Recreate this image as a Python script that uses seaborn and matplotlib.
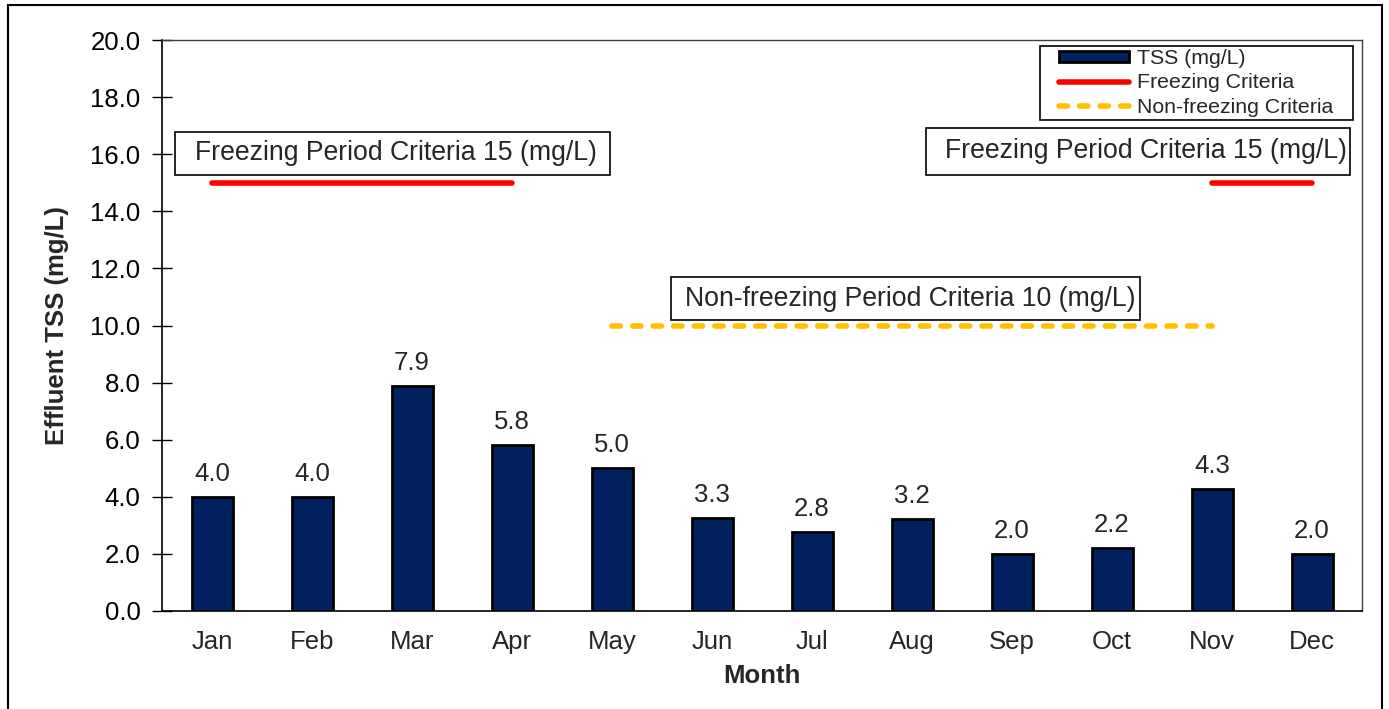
import seaborn as sns
import pandas as pd
import matplotlib.pyplot as plt
import matplotlib
import numpy as np
from matplotlib.patches import Rectangle, Patch
from matplotlib.lines import Line2D

sns.set_style('white')
plt.rcParams['font.family'] = ['Liberation Sans', 'DejaVu Sans']

months = ['Jan', 'Feb', 'Mar', 'Apr', 'May', 'Jun', 'Jul', 'Aug', 'Sep', 'Oct', 'Nov', 'Dec']
tss = [4.0, 4.0, 7.87, 5.8, 5.0, 3.27, 2.78, 3.22, 2.0, 2.2, 4.27, 2.0]
freezing = [15, 15, 15, 15, np.nan, np.nan, np.nan, np.nan, np.nan, np.nan, 15, 15]
non_freezing = [np.nan, np.nan, np.nan, np.nan, 10, 10, 10, 10, 10, 10, 10, np.nan]
yticks = np.arange(0, 20.1, 2.0)

bar_color = '#002060'
red = '#FF0000'
yellow = '#FFC000'


def plot_effluent_tss():
    fig = plt.figure(figsize=(13.89, 7.09), dpi=100)
    ax = fig.add_axes([162 / 1389, 1 - 611 / 709, 1200 / 1389, 571 / 709])

    df = pd.DataFrame({'Month': months, 'TSS': tss})
    sns.barplot(data=df, x='Month', y='TSS', color=bar_color, width=0.41,
                edgecolor='black', linewidth=2, saturation=1, ax=ax)
    ax.bar_label(ax.containers[0], fmt='%.1f', padding=8, fontsize=18.5)

    x = np.arange(len(months))
    ax.plot(x, freezing, color=red, lw=4, solid_capstyle='round')
    ax.plot(x, non_freezing, color=yellow, lw=4, dash_capstyle='round',
            dashes=(1.5, 2.2))

    ax.set_xlim(-0.5, 11.5)
    ax.set_ylim(0, 20)
    ax.set_yticks(yticks)
    ax.set_yticklabels([f'{v:.1f}' for v in yticks])
    ax.tick_params(axis='y', direction='inout', length=15, width=1, pad=8,
                   labelsize=18.5, colors='black', left=True)
    ax.tick_params(axis='x', length=0, pad=14, labelsize=18.5)
    ax.set_xlabel('Month', fontsize=18.5, fontweight='bold', labelpad=7)
    ax.set_ylabel('Effluent TSS (mg/L)', fontsize=18.5, fontweight='bold', labelpad=15)

    for s in ['left', 'bottom']:
        ax.spines[s].set_color('black')
        ax.spines[s].set_linewidth(1.2)
    for s in ['top', 'right']:
        ax.spines[s].set_color('#404040')
        ax.spines[s].set_linewidth(1.0)

    # annotation boxes (x in category units, y in mg/L)
    boxes = [(-0.37, 15.27, 4.35, 1.51, 1.84, 'Freezing Period Criteria 15 (mg/L)'),
             (7.14, 15.27, 4.24, 1.65, 9.34, 'Freezing Period Criteria 15 (mg/L)'),
             (4.59, 10.19, 4.69, 1.51, 6.98, 'Non-freezing Period Criteria 10 (mg/L)')]
    for bx, by, bw, bh, tx, txt in boxes:
        ax.add_patch(Rectangle((bx, by), bw, bh, facecolor='white', edgecolor='black',
                               lw=1.2, zorder=3))
        ax.text(tx, by + bh / 2, txt, ha='center', va='center', fontsize=19.2, zorder=4)

    # legend frame drawn separately so it can be wider than the entries
    lx0, lx1, ly0, ly1 = 0.7317, 0.9925, 0.8599, 0.9895
    ax.add_patch(Rectangle((lx0, ly0), lx1 - lx0, ly1 - ly0, transform=ax.transAxes,
                           facecolor='white', edgecolor='black', lw=1.2, zorder=5))
    handles = [Patch(facecolor=bar_color, edgecolor='black', linewidth=2),
               Line2D([0], [0], color=red, lw=4, solid_capstyle='round'),
               Line2D([0], [0], color=yellow, lw=4, dash_capstyle='round', dashes=(1.5, 2.2))]
    labels = ['TSS (mg/L)', 'Freezing Criteria', 'Non-freezing Criteria']
    leg = ax.legend(handles, labels, loc='center',
                    bbox_to_anchor=((lx0 + lx1) / 2, (ly0 + ly1) / 2),
                    fontsize=15.3, frameon=False, handlelength=3.3, handleheight=0.45,
                    handletextpad=0.38, labelspacing=0.25, borderpad=0,
                    borderaxespad=0)
    leg.set_zorder(6)

    fig.patches.append(Rectangle((8 / 1389, -0.01), 1374 / 1389, 1.01 - 5 / 709,
                                 transform=fig.transFigure, fill=False,
                                 edgecolor='black', lw=1.5))

    plt.savefig('out.png', dpi=100)


plot_effluent_tss()
